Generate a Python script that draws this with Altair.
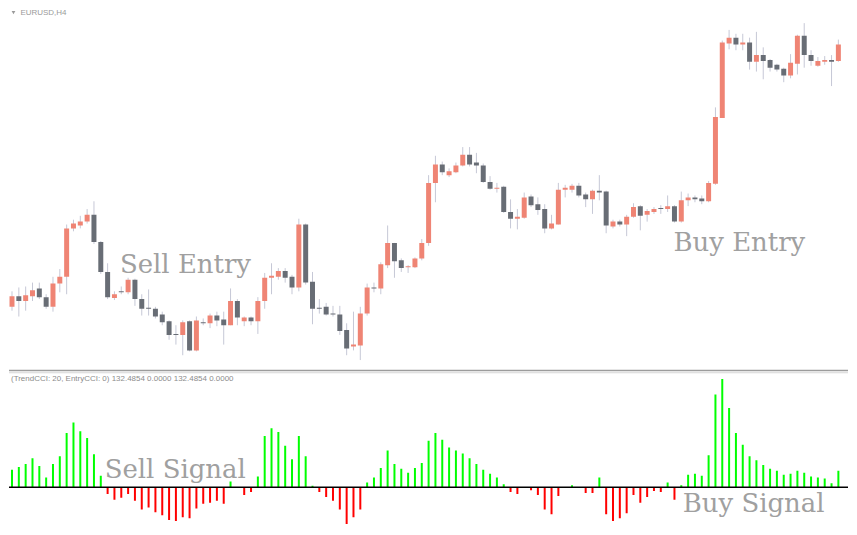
import altair as alt
import pandas as pd

BASE = 1.1500  # prices are stored as pips above this level

open_pips = [92,103,98,103,111,102,92,116,123,173,
             176,180,187,159,128,101,108,107,120,100,
             91,90,84,77,64,63,77,47,76,75,
             83,79,73,98,77,81,77,98,122,123,
             129,123,112,177,118,91,92,85,84,68,
             51,52,85,112,111,135,158,140,133,133,
             142,158,220,239,228,231,238,249,241,238,
             221,214,216,190,183,184,206,198,193,173,
             177,213,213,217,208,203,212,211,175,180,
             177,185,196,187,190,194,193,196,180,202,
             205,204,201,219,287,364,370,363,365,345,
             352,347,342,338,331,343,372,352,341,345,
             347,346]
close_pips = [103,98,104,109,102,92,116,123,173,178,
              180,187,159,128,102,105,107,120,100,90,
              90,82,76,63,63,76,47,78,75,83,
              78,73,98,81,81,77,98,122,124,129,
              122,112,177,117,90,90,84,84,67,49,
              53,85,112,111,136,158,139,132,134,142,
              158,220,239,231,232,238,249,239,238,221,
              214,215,190,183,185,205,197,192,173,178,
              213,215,217,207,203,212,210,176,180,177,
              185,195,186,191,193,193,196,180,202,205,
              203,201,220,288,365,370,363,365,345,352,
              346,339,337,331,344,372,352,346,346,347,
              345,363]
high_pips = [108,112,113,117,117,105,123,131,177,182,
             186,193,201,160,137,108,113,122,121,105,
             110,92,87,78,73,78,78,82,80,85,
             87,87,111,100,82,82,102,127,137,132,
             132,125,183,178,128,100,96,93,93,75,
             87,92,116,117,138,176,158,142,135,143,
             162,228,248,242,235,241,257,257,251,240,
             227,220,217,203,193,210,208,205,198,187,
             220,218,219,220,210,213,228,212,182,182,
             187,199,197,193,195,197,207,197,211,209,
             207,207,222,298,367,378,374,374,370,376,
             360,348,343,339,353,373,385,357,350,351,
             352,368]
low_pips = [88,82,88,98,100,90,87,107,105,170,
            173,178,157,126,100,99,105,105,93,83,
            83,80,73,58,53,42,46,46,73,70,
            72,53,73,73,72,73,64,90,105,120,
            117,105,108,115,74,85,83,82,63,42,
            47,37,83,107,105,132,122,128,127,132,
            140,155,200,228,226,230,237,237,230,220,
            213,210,189,173,172,183,195,187,168,172,
            177,205,210,205,195,188,202,168,173,175,
            165,184,171,180,188,188,190,179,179,196,
            200,198,200,218,287,358,357,357,337,335,
            327,335,335,324,328,332,339,341,340,342,
            320,345]
cci = [18,21,24,30,22,10,24,32,56,67,
       58,51,34,12,-7,-13,-11,-7,-14,-23,
       -21,-26,-29,-34,-35,-31,-32,-22,-17,-16,
       -14,-17,6,0,-8,-5,11,53,61,57,
       43,29,53,32,1.5,-5,-10,-14,-23,-38,
       -31,-23,5,10,20,38,24,19,15,20,
       25,48,56,49,41,38,35,30,24,18,
       14,10,3,-5,-7,0,-3,-8,-23,-28,
       -9,0,2,0,-6,-6,10,-28,-35,-32,
       -27,-8,-16,-10,-4,-5,5,-13,2,13,
       14,12,33,96,112,82,56,44,32,28,
       23,19,17,13,14,17,15,11,10,9,
       4,17]

symbol_label = "EURUSD,H4"
indicator_label = "(TrendCCI: 20, EntryCCI: 0)  132.4854 0.0000 132.4854 0.0000"
price_notes = ["Sell Entry", "Buy Entry"]
price_note_bar = [25.4, 106.5]
price_note_pips = [135, 158]
cci_notes = ["Sell Signal", "Buy Signal"]
cci_note_bar = [23.9, 108.6]
cci_note_val = [17.5, -17.5]

n = len(open_pips)
df = pd.DataFrame({
    "bar": list(range(n)),
    "open": [BASE + v / 10000 for v in open_pips],
    "close": [BASE + v / 10000 for v in close_pips],
    "high": [BASE + v / 10000 for v in high_pips],
    "low": [BASE + v / 10000 for v in low_pips],
    "cci": cci,
})
df["dir"] = ["up" if c >= o else "down" for o, c in zip(open_pips, close_pips)]
df["sign"] = ["pos" if v >= 0 else "neg" for v in cci]

W = 841
H_TOP = 362
H_BOT = 157

xsc = alt.Scale(domain=[0.29, 121.68], nice=False, zero=False)
ysc_top = alt.Scale(domain=[BASE + 27 / 10000, BASE + 400 / 10000], nice=False, zero=False)
ysc_bot = alt.Scale(domain=[-40.5, 121.5], nice=False, zero=False)

base = alt.Chart(df)

wicks = base.mark_rule(color="#c6c8d6", strokeWidth=1, clip=True).encode(
    x=alt.X("bar:Q", scale=xsc, axis=None),
    y=alt.Y("low:Q", scale=ysc_top, axis=None),
    y2="high:Q",
)
bodies = base.mark_bar(size=5, clip=True).encode(
    x=alt.X("bar:Q", scale=xsc, axis=None),
    y=alt.Y("open:Q", scale=ysc_top, axis=None),
    y2="close:Q",
    color=alt.Color("dir:N", scale=alt.Scale(domain=["up", "down"], range=["#ef8474", "#686d75"]), legend=None),
)
pn = pd.DataFrame({"t": price_notes, "bar": price_note_bar,
                   "price": [BASE + v / 10000 for v in price_note_pips]})
price_text = alt.Chart(pn).mark_text(font="DejaVu Serif", fontSize=26, color="#a0a0a0",
                                     align="center", baseline="middle").encode(
    x=alt.X("bar:Q", scale=xsc, axis=None),
    y=alt.Y("price:Q", scale=ysc_top, axis=None),
    text="t:N",
)
hdr = alt.Chart(pd.DataFrame({"t": [symbol_label]})).mark_text(
    font="Liberation Sans", fontSize=8, color="#9a9a9a", align="left", baseline="middle"
).encode(x=alt.value(11.5), y=alt.value(4), text="t:N")
tri = alt.Chart(pd.DataFrame({"t": [symbol_label]})).mark_point(
    shape="triangle-down", filled=True, size=14, color="#9a9a9a", opacity=1
).encode(x=alt.value(4.5), y=alt.value(4))

top = alt.layer(wicks, bodies, price_text, hdr, tri).properties(width=W, height=H_TOP)

hist = base.mark_bar(size=2, clip=True).encode(
    x=alt.X("bar:Q", scale=xsc, axis=None),
    y=alt.Y("cci:Q", scale=ysc_bot, axis=None),
    color=alt.Color("sign:N", scale=alt.Scale(domain=["pos", "neg"], range=["#00ff00", "#ff0000"]), legend=None),
)
zero = alt.Chart(pd.DataFrame({"z": [0]})).mark_rule(color="#000000", strokeWidth=1.5).encode(
    y=alt.Y("z:Q", scale=ysc_bot, axis=None)
)
sep1 = alt.Chart(pd.DataFrame({"z": [0]})).mark_rule(color="#9c9c9c", strokeWidth=1.5).encode(
    y=alt.value(0.8)
)
sep2 = alt.Chart(pd.DataFrame({"z": [0]})).mark_rule(color="#d6d6d6", strokeWidth=1).encode(
    y=alt.value(3)
)
cn = pd.DataFrame({"t": cci_notes, "bar": cci_note_bar, "v": cci_note_val})
cci_text = alt.Chart(cn).mark_text(font="DejaVu Serif", fontSize=26, color="#a0a0a0",
                                   align="center", baseline="middle").encode(
    x=alt.X("bar:Q", scale=xsc, axis=None),
    y=alt.Y("v:Q", scale=ysc_bot, axis=None),
    text="t:N",
)
ind = alt.Chart(pd.DataFrame({"t": [indicator_label]})).mark_text(
    font="Liberation Sans", fontSize=8, color="#8c8c8c", align="left", baseline="middle"
).encode(x=alt.value(2), y=alt.value(9), text="t:N")

bottom = alt.layer(hist, cci_text, zero, sep1, sep2, ind).properties(width=W, height=H_BOT)

chart = alt.vconcat(top, bottom, spacing=0).properties(
    padding=0, background="#ffffff"
).configure_view(stroke=None).resolve_scale(color="independent", y="independent")

chart.save("out.html", embed_options={"renderer": "svg", "actions": False})
